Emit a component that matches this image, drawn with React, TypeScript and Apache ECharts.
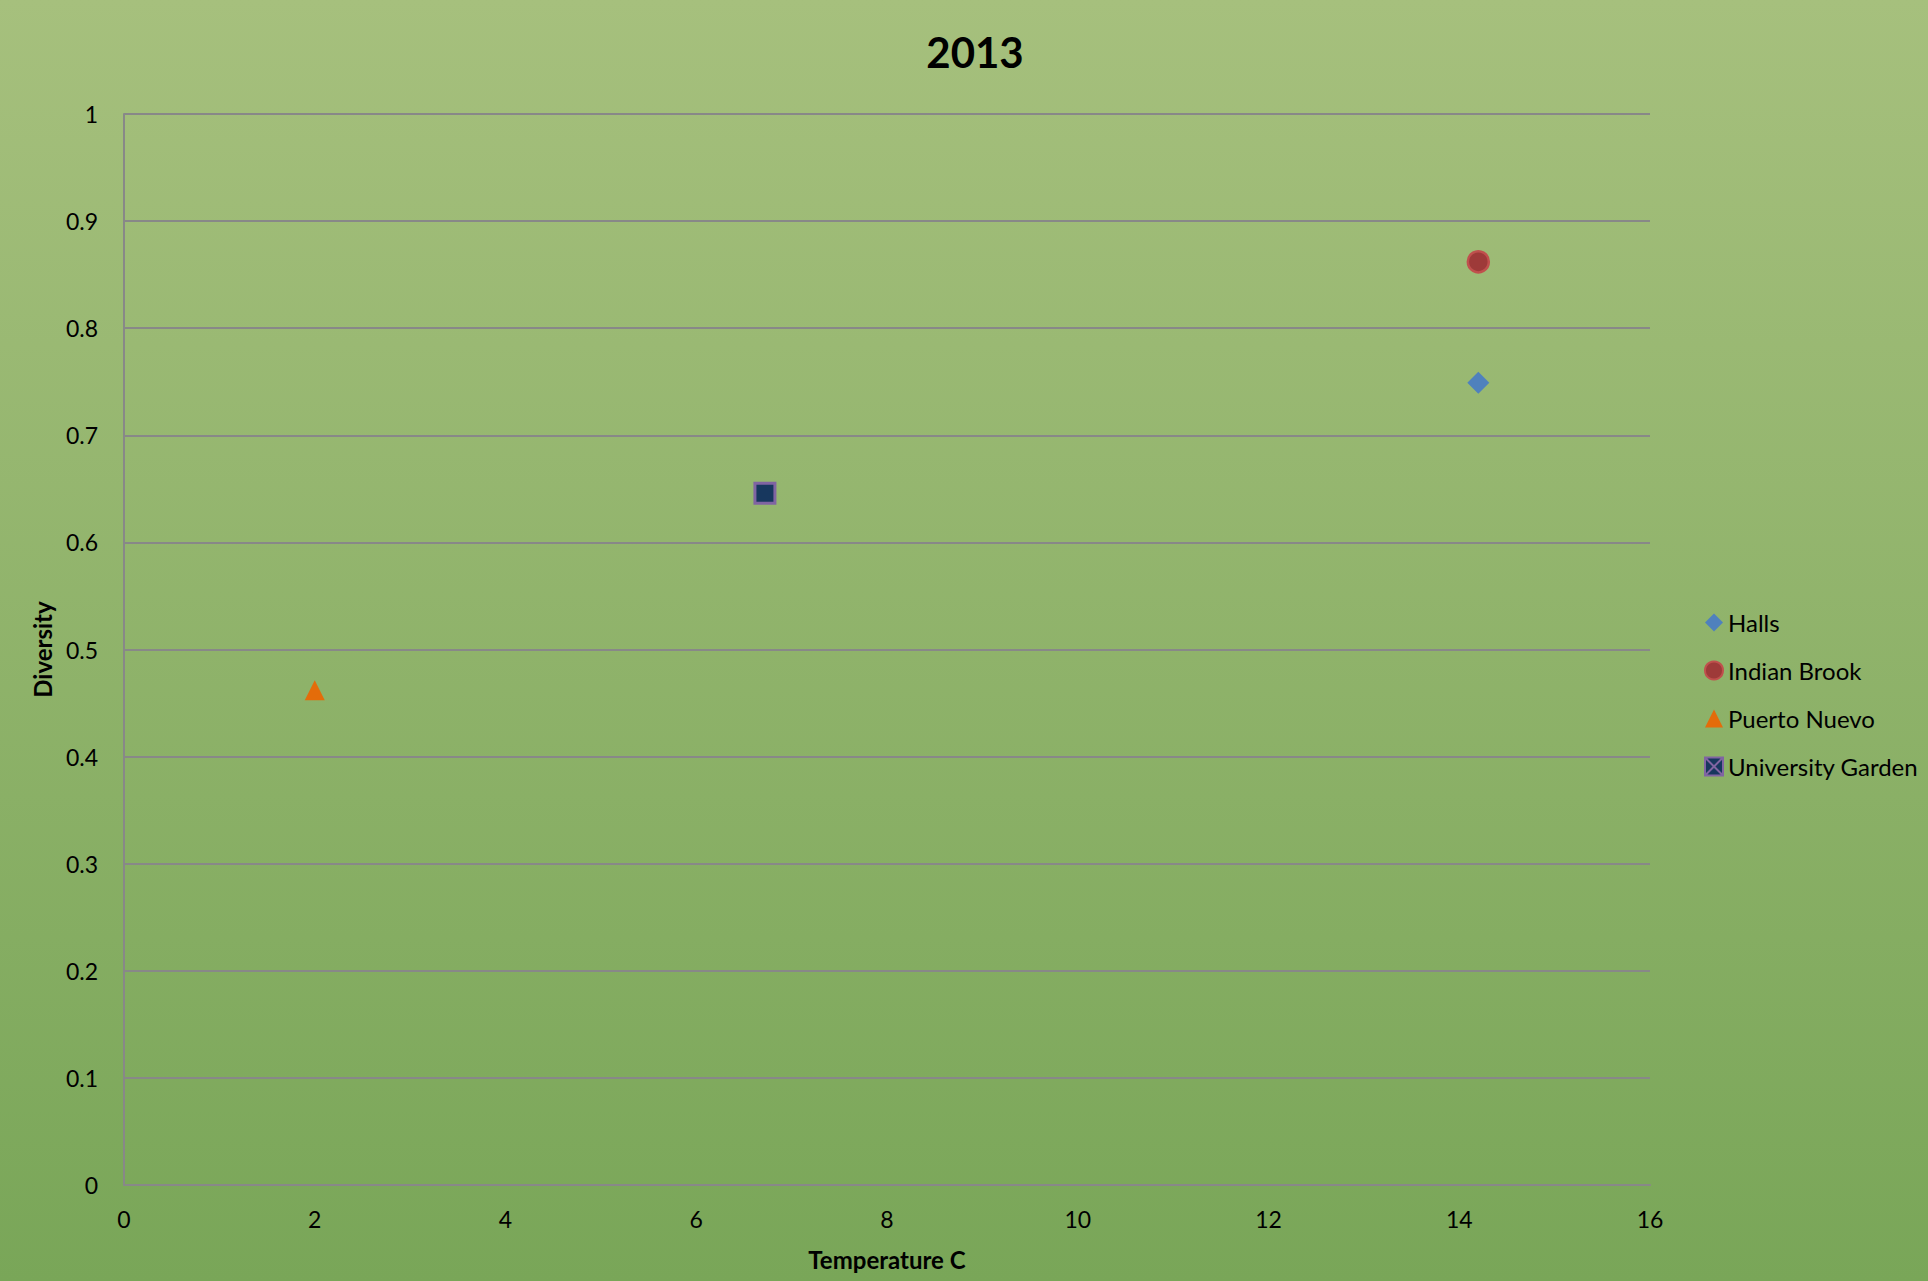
import React, { useEffect, useRef } from "react";
import * as echarts from "echarts";

// Site readings: [temperature °C, diversity index]
const halls: number[][] = [[14.2, 0.749]];
const indianBrook: number[][] = [[14.2, 0.862]];
const puertoNuevo: number[][] = [[2.0, 0.462]];
const universityGarden: number[][] = [[6.72, 0.646]];

const seriesNames = ["Halls", "Indian Brook", "Puerto Nuevo", "University Garden"];
const chartTitle = "2013";
const xAxisTitle = "Temperature C";
const yAxisTitle = "Diversity";

const FONT = "Lato, 'Open Sans', sans-serif";
const GRID_COLOR = "#888888";

export default function App() {
  const ref = useRef<HTMLDivElement>(null);

  useEffect(() => {
    if (!ref.current) return;
    const chart = echarts.init(ref.current, null, { renderer: "svg" });

    chart.setOption({
      animation: false,
      backgroundColor: new echarts.graphic.LinearGradient(0, 0, 0, 1, [
        { offset: 0, color: "#a6c07d" },
        { offset: 1, color: "#79a658" },
      ]),
      textStyle: { fontFamily: FONT, color: "#000" },
      title: {
        text: chartTitle,
        left: 970,
        textAlign: "center",
        top: 26,
        textStyle: { fontFamily: FONT, fontSize: 42, fontWeight: "bold", color: "#000" },
      },
      grid: { left: 124, right: 278, top: 114, bottom: 96 },
      legend: {
        orient: "vertical",
        left: 1704,
        top: 609,
        padding: 0,
        itemWidth: 18,
        itemHeight: 18,
        itemGap: 21,
        textStyle: { fontFamily: FONT, fontSize: 24, color: "#000", lineHeight: 27 },
        data: [
          { name: "Halls", icon: "diamond" },
          { name: "Indian Brook", icon: "circle" },
          { name: "Puerto Nuevo", icon: "triangle" },
          {
            name: "University Garden",
            icon: "path://M0,0 L10,0 L10,10 L0,10 Z M0,0 L10,10 M10,0 L0,10",
          },
        ],
      },
      xAxis: {
        type: "value",
        min: 0,
        max: 16,
        interval: 2,
        name: xAxisTitle,
        nameLocation: "middle",
        nameGap: 62,
        nameTextStyle: { fontFamily: FONT, fontSize: 24, fontWeight: "bold", color: "#000" },
        axisLine: { show: true, lineStyle: { color: GRID_COLOR, width: 2 } },
        axisTick: { show: false },
        splitLine: { show: false },
        axisLabel: { fontFamily: FONT, fontSize: 23, color: "#000", margin: 22 },
      },
      yAxis: {
        type: "value",
        min: 0,
        max: 1,
        interval: 0.1,
        name: yAxisTitle,
        nameLocation: "middle",
        nameGap: 70,
        nameRotate: 90,
        nameTextStyle: { fontFamily: FONT, fontSize: 24, fontWeight: "bold", color: "#000" },
        axisLine: { show: true, lineStyle: { color: GRID_COLOR, width: 2 } },
        axisTick: { show: false },
        splitLine: { show: true, lineStyle: { color: GRID_COLOR, width: 2 } },
        axisLabel: { fontFamily: FONT, fontSize: 23, color: "#000", margin: 26 },
      },
      series: [
        {
          name: seriesNames[0],
          type: "scatter",
          data: halls,
          symbol: "diamond",
          symbolSize: 22,
          itemStyle: { color: "#4f81bd", opacity: 1 },
        },
        {
          name: seriesNames[1],
          type: "scatter",
          data: indianBrook,
          symbol: "circle",
          symbolSize: 21,
          itemStyle: { color: "#9e3a39", borderColor: "#c0504d", borderWidth: 2.5, opacity: 1 },
        },
        {
          name: seriesNames[2],
          type: "scatter",
          data: puertoNuevo,
          symbol: "triangle",
          symbolSize: 20,
          itemStyle: { color: "#e46c0a", opacity: 1 },
        },
        {
          name: seriesNames[3],
          type: "scatter",
          data: universityGarden,
          symbol: "rect",
          symbolSize: 20,
          itemStyle: { color: "#17375e", borderColor: "#8064a2", borderWidth: 3, opacity: 1 },
        },
      ],
    });

    return () => chart.dispose();
  }, []);

  return (
    <div
      ref={ref}
      style={{ position: "fixed", left: 0, top: 0, width: 1928, height: 1281 }}
    />
  );
}
